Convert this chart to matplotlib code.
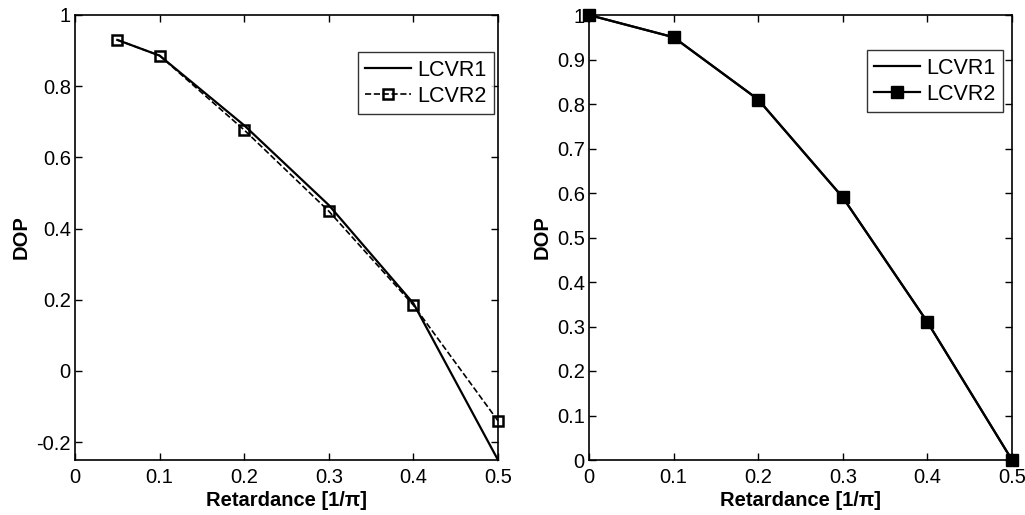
import matplotlib
matplotlib.use("Agg")
import matplotlib.pyplot as plt
from matplotlib.ticker import FixedLocator, FixedFormatter

plt.rcParams['font.family'] = ['Liberation Sans', 'DejaVu Sans']

# Left panel data
left_x = [0.05, 0.1, 0.2, 0.3, 0.4, 0.5]
left_lcvr1 = [0.93, 0.886, 0.69, 0.466, 0.19, -0.25]
left_lcvr2 = [0.93, 0.886, 0.677, 0.449, 0.185, -0.14]
left_yticks = [-0.2, 0, 0.2, 0.4, 0.6, 0.8, 1]
left_ylabels = ['-0.2', '0', '0.2', '0.4', '0.6', '0.8', '1']

# Right panel data
right_x = [0, 0.1, 0.2, 0.3, 0.4, 0.5]
right_lcvr1 = [1.0, 0.95, 0.81, 0.59, 0.31, 0.0]
right_lcvr2 = [1.0, 0.95, 0.81, 0.59, 0.31, 0.0]
right_yticks = [0, 0.1, 0.2, 0.3, 0.4, 0.5, 0.6, 0.7, 0.8, 0.9, 1]
right_ylabels = ['0', '0.1', '0.2', '0.3', '0.4', '0.5', '0.6', '0.7', '0.8', '0.9', '1']

xticks = [0, 0.1, 0.2, 0.3, 0.4, 0.5]
xlabels = ['0', '0.1', '0.2', '0.3', '0.4', '0.5']

fig = plt.figure(figsize=(10.25, 5.15), dpi=100)
W, H = 1025, 515
axL = fig.add_axes([75 / W, 1 - 460 / H, (498 - 75) / W, (460 - 15) / H])
axR = fig.add_axes([589 / W, 1 - 460 / H, (1012 - 589) / W, (460 - 15) / H])

fs = 14.5
lfs = 15.5

def style(ax, yticks, ylabels, ylim):
    ax.set_xlim(0, 0.5)
    ax.set_ylim(*ylim)
    ax.xaxis.set_major_locator(FixedLocator(xticks))
    ax.xaxis.set_major_formatter(FixedFormatter(xlabels))
    ax.yaxis.set_major_locator(FixedLocator(yticks))
    ax.yaxis.set_major_formatter(FixedFormatter(ylabels))
    ax.tick_params(direction='in', top=True, right=True, length=5, width=1,
                   labelsize=fs)
    ax.tick_params(axis='x', pad=6)
    ax.tick_params(axis='y', pad=3)
    for s in ax.spines.values():
        s.set_linewidth(1.2)
    ax.set_xlabel('Retardance [1/\u03c0]', fontsize=fs, fontweight='bold', labelpad=3)
    ax.set_ylabel('DOP', fontsize=fs, fontweight='bold', labelpad=4)

def legend(ax, anchor):
    leg = ax.legend(loc='upper right', bbox_to_anchor=anchor, fontsize=lfs,
                    frameon=True, fancybox=False, edgecolor='black', handlelength=2.1,
                    borderpad=0.35, labelspacing=0.25, handletextpad=0.3,
                    borderaxespad=0.0)
    leg.get_frame().set_linewidth(1.0)
    return leg

axL.plot(left_x, left_lcvr1, '-', color='black', lw=1.6, label='LCVR1')
axL.plot(left_x, left_lcvr2, '--', color='black', lw=1.2, marker='s', ms=7.5,
         mfc='none', mec='black', mew=1.8, label='LCVR2')
style(axL, left_yticks, left_ylabels, (-0.25, 1.0))
legend(axL, ((494 - 75) / 423, (460 - 52) / 445))

axR.plot(right_x, right_lcvr1, '-', color='black', lw=1.6, label='LCVR1')
axR.plot(right_x, right_lcvr2, '-', color='black', lw=1.6, marker='s', ms=8.5,
         mfc='black', mec='black', label='LCVR2')
style(axR, right_yticks, right_ylabels, (0, 1.0))
legend(axR, ((1003 - 589) / 423, (460 - 50) / 445))

for ax in (axL, axR):
    for l in ax.get_lines():
        l.set_clip_on(False)

fig.savefig('out.png', dpi=100, facecolor='white')
